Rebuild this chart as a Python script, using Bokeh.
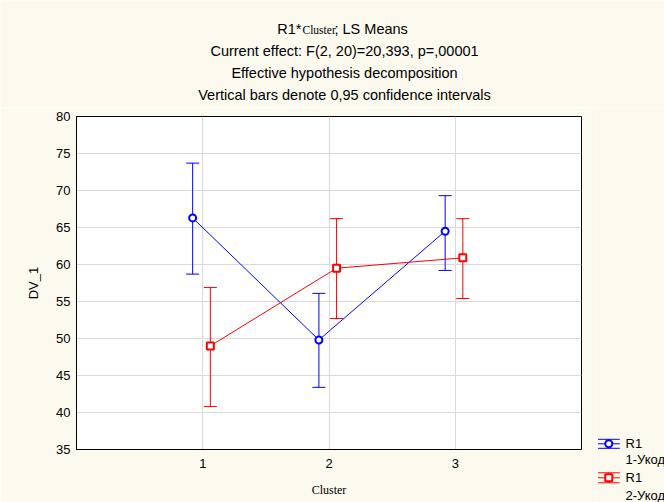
from bokeh.plotting import figure
from bokeh.models import ColumnDataSource, Whisker, TeeHead, Range1d, FixedTicker
from bokeh.layouts import row, column
from bokeh.core.properties import value
from bokeh.embed import file_html
from bokeh.resources import INLINE

# ---- data ----
clusters = [1, 2, 3]
r1_1_mean = [66.3, 49.8, 64.5]
r1_1_upper = [73.7, 56.1, 69.3]
r1_1_lower = [58.7, 43.4, 59.2]
r1_2_mean = [49.0, 59.5, 60.9]
r1_2_upper = [56.9, 66.2, 66.2]
r1_2_lower = [40.8, 52.7, 55.4]
series_names = ["R1\n1-Укод", "R1\n2-Укод"]
y_ticks = [35, 40, 45, 50, 55, 60, 65, 70, 75, 80]
title_lines = ["Current effect: F(2, 20)=20,393, p=,00001",
               "Effective hypothesis decomposition",
               "Vertical bars denote 0,95 confidence intervals"]

BG = "#FCF9EF"
BLUE = "#0000FF"
RED = "#FF0000"
SANS = "Liberation Sans"
SERIF = "Liberation Serif"

TOP_H = 107          # height of title strip
FL, FR, FT, FB = 76, 581, 116, 449   # frame edges in window px
W_MAIN = 596
H_MAIN = 502 - TOP_H

p = figure(width=W_MAIN, height=H_MAIN, x_range=Range1d(0, 4), y_range=Range1d(35, 80),
           toolbar_location=None, output_backend="svg",
           min_border_left=FL, min_border_right=W_MAIN - FR, min_border_top=FT - TOP_H,
           min_border_bottom=502 - FB)
p.frame_align = False
p.background_fill_color = "white"
p.border_fill_color = BG
p.outline_line_color = "black"
p.outline_line_width = 1

p.xaxis.ticker = FixedTicker(ticks=clusters)
p.yaxis.ticker = FixedTicker(ticks=y_ticks)
for ax in (p.xaxis, p.yaxis):
    ax.axis_line_color = "black"
    ax.major_tick_in = 0
    ax.major_tick_out = 0
    ax.minor_tick_line_color = None
    ax.major_label_text_font = SANS
    ax.major_label_text_font_size = "13px"
    ax.major_label_text_color = "black"
    ax.axis_label_text_font_style = "normal"
    ax.axis_label_text_color = "black"
p.yaxis.major_label_standoff = 6
p.xaxis.major_label_standoff = 9
p.yaxis.axis_label = "DV_1"
p.yaxis.axis_label_text_font = SANS
p.yaxis.axis_label_text_font_size = "13px"
p.yaxis.axis_label_standoff = 12
p.xaxis.axis_label = "Cluster"
p.xaxis.axis_label_text_font = SERIF
p.xaxis.axis_label_text_font_size = "12px"
p.xaxis.axis_label_standoff = 12

p.grid.grid_line_color = "#D9D9D9"
p.grid.grid_line_width = 1

offsets = [-0.08, 0.06]
specs = [
    (r1_1_mean, r1_1_upper, r1_1_lower, BLUE, "circle"),
    (r1_2_mean, r1_2_upper, r1_2_lower, RED, "square"),
]
for (m, u, l, col, mk), off in zip(specs, offsets):
    src = ColumnDataSource(dict(x=[c + off for c in clusters], y=m, upper=u, lower=l))
    p.line("x", "y", source=src, line_color=col, line_width=1)
    w = Whisker(source=src, base="x", upper="upper", lower="lower", dimension="height",
                line_color=col, line_width=1,
                upper_head=TeeHead(size=13, line_color=col, line_width=1),
                lower_head=TeeHead(size=13, line_color=col, line_width=1))
    p.add_layout(w)
    p.scatter("x", "y", source=src, marker=mk, size=7, line_color=col, line_width=2,
              fill_color="white")

# ---- title strip (pixel coordinates) ----
tt = figure(width=664, height=TOP_H, x_range=Range1d(0, 664), y_range=Range1d(TOP_H, 0),
            toolbar_location=None, output_backend="svg", min_border=0,
            x_axis_type=None, y_axis_type=None)
tt.frame_align = False
tt.background_fill_color = BG
tt.border_fill_color = BG
tt.outline_line_color = None
tt.grid.visible = False

def ttext(fig, x, y, s, align="center", font=SANS, size="14.5px", baseline="middle"):
    fig.text(x=[x], y=[y], text=[s], text_align=align, text_baseline=baseline,
             text_font=value(font), text_font_size=size, text_color="black")

ttext(tt, 301, 28, "R1*", "right")
ttext(tt, 302, 29, "Cluster", "left", SERIF, "11.5px")
ttext(tt, 334, 28, "; LS Means", "left")
for i, s in enumerate(title_lines):
    ttext(tt, 344, 50 + 22 * i, s)

# ---- legend strip ----
lg = figure(width=664 - W_MAIN, height=H_MAIN, x_range=Range1d(W_MAIN, 664),
            y_range=Range1d(502, TOP_H), toolbar_location=None, output_backend="svg",
            min_border=0, x_axis_type=None, y_axis_type=None)
lg.frame_align = False
lg.background_fill_color = BG
lg.border_fill_color = BG
lg.outline_line_color = None
lg.grid.visible = False

leg_rows = [(443.3, 4.5, 458.5, BLUE, "circle"), (477.3, 5.0, 495.0, RED, "square")]
for (cy, hh, ty, col, mk), name in zip(leg_rows, series_names):
    lg.segment(x0=[597.5, 597.5, 597.5, 608.3], y0=[cy - hh, cy, cy + hh, cy - hh],
               x1=[619.3, 619.3, 619.3, 608.3], y1=[cy - hh, cy, cy + hh, cy + hh],
               line_color=col, line_width=1)
    lg.scatter(x=[608.3], y=[cy], marker=mk, size=7, line_color=col, line_width=2,
               fill_color="white")
    first, second = name.split("\n")
    ttext(lg, 625, cy, first, "left", size="13px")
    ttext(lg, 625, ty, second, "left", size="13px")

layout = column(tt, row(p, lg, spacing=0), spacing=0)
open("out.html", "w").write(file_html(layout, INLINE))
